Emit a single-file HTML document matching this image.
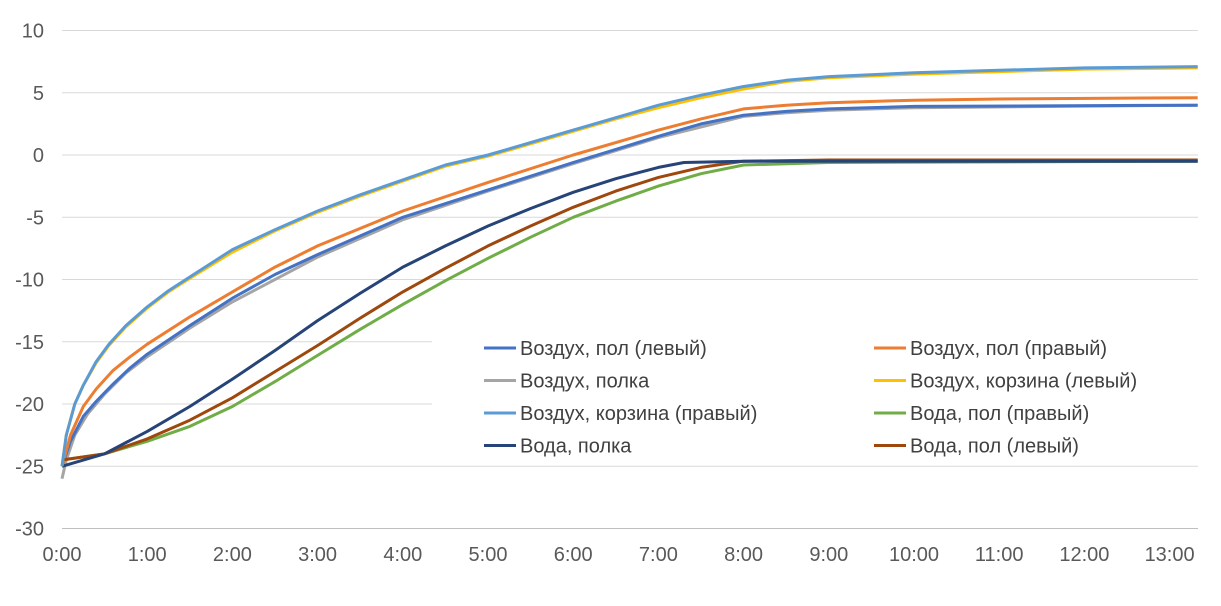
<!DOCTYPE html>
<html><head><meta charset="utf-8"><style>
body{margin:0;background:#fff;}
svg{display:block;font-family:"Liberation Sans",sans-serif;}
</style></head><body>
<svg id="chart" width="1221" height="606"></svg>
<script>
const yTicks=[10,5,0,-5,-10,-15,-20,-25,-30];
const xTickLabels=["0:00","1:00","2:00","3:00","4:00","5:00","6:00","7:00","8:00","9:00","10:00","11:00","12:00","13:00"];
const seriesNames=["Воздух, пол (левый)","Воздух, пол (правый)","Воздух, полка","Воздух, корзина (левый)","Воздух, корзина (правый)","Вода, пол (правый)","Вода, полка","Вода, пол (левый)"];
const seriesColors=["#4472c4","#ed7d31","#a5a5a5","#ffc000","#5b9bd5","#70ad47","#264478","#9e480e"];
const airFloorLeftT=[0,0.1,0.25,0.4,0.6,0.8,1,1.5,2,2.5,3,4,5,6,7,7.5,8,8.5,9,10,13.33];
const airFloorLeftV=[-25,-23,-21,-19.8,-18.4,-17.1,-16,-13.7,-11.5,-9.6,-8,-5,-2.8,-0.6,1.5,2.5,3.2,3.5,3.7,3.9,4];
const airFloorRightT=[0,0.1,0.25,0.4,0.6,0.8,1,1.5,2,2.5,3,4,5,6,7,7.5,8,8.5,9,10,11,13.33];
const airFloorRightV=[-25,-22.5,-20.2,-18.8,-17.3,-16.2,-15.2,-13,-11,-9,-7.3,-4.5,-2.2,0,2,2.9,3.7,4,4.2,4.4,4.5,4.6];
const airShelfT=[0,0.05,0.15,0.3,0.5,0.75,1,1.5,2,3,4,5,6,7,8,8.5,9,10,13.33];
const airShelfV=[-26,-24.5,-22.5,-20.8,-19.2,-17.5,-16.2,-13.9,-11.8,-8.2,-5.2,-2.9,-0.7,1.4,3.1,3.4,3.6,3.8,4];
const airBasketT=[0,0.05,0.15,0.25,0.4,0.55,0.75,1,1.25,1.5,2,2.5,3,3.5,4,4.5,5,5.5,6,6.5,7,7.5,8,8.5,9,10,11,12,13.33];
const airBasketLeftV=[-25,-22.5,-20,-18.5,-16.7,-15.3,-13.8,-12.3,-11,-9.9,-7.8,-6.1,-4.6,-3.3,-2.1,-0.9,-0.1,0.9,1.9,2.9,3.8,4.6,5.3,5.9,6.2,6.5,6.7,6.9,7];
const airBasketRightV=[-25,-22.5,-20,-18.5,-16.6,-15.2,-13.7,-12.2,-10.9,-9.8,-7.6,-6,-4.5,-3.2,-2,-0.8,0,1,2,3,4,4.8,5.5,6,6.3,6.6,6.8,7,7.1];
const waterFloorRightT=[0,0.5,1,1.5,2,2.5,3,3.5,4,4.5,5,5.5,6,6.5,7,7.5,8,9,13.33];
const waterFloorRightV=[-24.5,-24,-23,-21.8,-20.2,-18.2,-16.1,-14,-12,-10.1,-8.3,-6.6,-5,-3.7,-2.5,-1.5,-0.8,-0.6,-0.5];
const waterShelfT=[0,0.5,1,1.5,2,2.5,3,3.5,4,4.5,5,5.5,6,6.5,7,7.3,8,13.33];
const waterShelfV=[-25,-24,-22.2,-20.2,-18,-15.7,-13.3,-11.1,-9,-7.3,-5.7,-4.3,-3,-1.9,-1,-0.6,-0.5,-0.5];
const waterFloorLeftT=[0,0.5,1,1.5,2,2.5,3,3.5,4,4.5,5,5.5,6,6.5,7,7.5,8,9,13.33];
const waterFloorLeftV=[-24.5,-24,-22.8,-21.3,-19.5,-17.4,-15.3,-13.1,-11,-9.1,-7.3,-5.7,-4.2,-2.9,-1.8,-1,-0.5,-0.4,-0.4];

const NS="http://www.w3.org/2000/svg";
const svg=document.getElementById('chart');
const X0=62,PX_H=85.2,XEND=1198;
const xs=t=>X0+t*PX_H;
const ys=v=>155-v*12.45;
function mk(tag,a){const e=document.createElementNS(NS,tag);for(const k in a)e.setAttribute(k,a[k]);svg.appendChild(e);return e;}
yTicks.forEach(v=>{
  const g=mk('line',{x1:X0,x2:XEND,y1:ys(v),y2:ys(v),stroke:v===-30?'#bfbfbf':'#d9d9d9','stroke-width':1});
  
  
  const t=mk('text',{x:44,y:ys(v)+7,'text-anchor':'end','font-size':20,fill:'#595959'});
  t.textContent=v;
  
  
});
xTickLabels.forEach((l,i)=>{
  const t=mk('text',{x:xs(i),y:561,'text-anchor':'middle','font-size':20,fill:'#595959'});
  t.textContent=l;
  
  
});
const data=[[airFloorLeftT,airFloorLeftV],[airFloorRightT,airFloorRightV],[airShelfT,airShelfV],[airBasketT,airBasketLeftV],[airBasketT,airBasketRightV],[waterFloorRightT,waterFloorRightV],[waterShelfT,waterShelfV],[waterFloorLeftT,waterFloorLeftV]];
const order=[2,0,1,5,7,6,3,4];
order.forEach(i=>{
  const [T,V]=data[i];
  const d=T.map((t,j)=>(j?'L':'M')+xs(t).toFixed(1)+','+ys(V[j]).toFixed(1)).join(' ');
  const p=mk('path',{d:d,fill:'none',stroke:seriesColors[i],'stroke-width':3,'stroke-linejoin':'round'});
  
  
});
const bg=mk('rect',{x:432,y:325,width:766,height:140,fill:'#fff'});


seriesNames.forEach((n,i)=>{
  const col=i%2,row=Math.floor(i/2);
  const lx=col?874:484,ly=348+row*32.5;
  const m=mk('line',{x1:lx,x2:lx+32,y1:ly,y2:ly,stroke:seriesColors[i],'stroke-width':3});
  
  
  const t=mk('text',{x:lx+36,y:ly+7,'font-size':20,fill:'#404040'});
  t.textContent=n;
  
  
});
</script>
</body></html>
